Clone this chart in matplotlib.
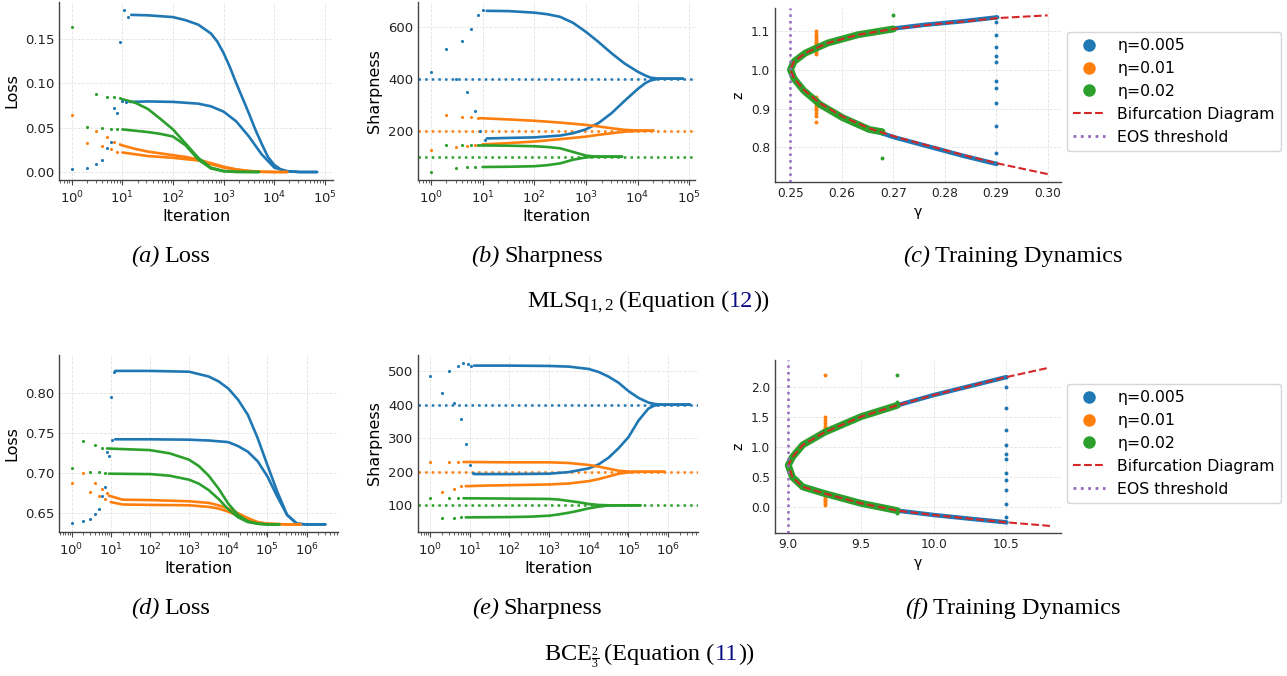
import matplotlib
matplotlib.use('Agg')
import matplotlib.pyplot as plt
from matplotlib.lines import Line2D

plt.rcParams['font.family'] = ['DejaVu Sans']
plt.rcParams['mathtext.fontset'] = 'custom'
plt.rcParams['mathtext.rm'] = 'Liberation Serif'
plt.rcParams['mathtext.it'] = 'Liberation Serif:italic'
plt.rcParams['mathtext.bf'] = 'Liberation Serif:bold'

BLUE, ORANGE, GREEN, RED, PURPLE = '#1f77b4', '#ff7f0e', '#2ca02c', '#d62728', '#9467bd'

# ---------------- (a) MLSq loss ----------------
a_blue_early_it = [1, 2, 3, 4, 5, 6, 7, 8, 9, 10, 11, 12, 13]
a_blue_early_val = [0.003, 0.005, 0.009, 0.014, 0.027, 0.034, 0.072, 0.067, 0.146, 0.080, 0.183, 0.079, 0.175]
a_blue_hi_it = [15, 32, 100, 178, 316, 562, 750, 1000, 1334, 1778, 2371, 3162, 4217, 5623, 7499, 10000, 13335, 17783, 31623, 70000]
a_blue_hi_val = [0.177, 0.1765, 0.1745, 0.171, 0.166, 0.156, 0.147, 0.134, 0.118, 0.100, 0.083, 0.066, 0.048, 0.032, 0.017, 0.008, 0.003, 0.001, 0.0, 0.0]
a_blue_lo_it = [14, 32, 100, 316, 562, 1000, 1778, 3162, 5623, 10000, 17783, 31623, 70000]
a_blue_lo_val = [0.079, 0.0795, 0.079, 0.077, 0.074, 0.068, 0.057, 0.040, 0.020, 0.005, 0.0008, 0.0, 0.0]

a_orange_early_it = [1, 2, 3, 4, 5, 6, 7, 8]
a_orange_early_val = [0.064, 0.033, 0.046, 0.029, 0.039, 0.026, 0.034, 0.023]
a_orange_hi_it = [9, 10, 18, 32, 100, 178, 316, 562, 1000, 1778, 3162, 5623, 10000, 18000]
a_orange_hi_val = [0.031, 0.030, 0.026, 0.023, 0.019, 0.017, 0.014, 0.010, 0.006, 0.003, 0.0012, 0.0003, 0.0, 0.0]
a_orange_lo_it = [10, 32, 100, 316, 562, 1000, 1778, 3162, 5623, 10000, 18000]
a_orange_lo_val = [0.022, 0.018, 0.016, 0.013, 0.009, 0.005, 0.0026, 0.001, 0.0002, 0.0, 0.0]

a_green_early_it = [1, 2, 3, 4, 5, 6, 7, 8, 9]
a_green_early_val = [0.163, 0.051, 0.088, 0.050, 0.085, 0.049, 0.084, 0.048, 0.083]
a_green_hi_it = [10, 18, 32, 56, 100, 178, 316, 562, 1000, 1778, 5000]
a_green_hi_val = [0.082, 0.078, 0.071, 0.060, 0.048, 0.032, 0.016, 0.005, 0.0012, 0.0002, 0.0]
a_green_lo_it = [10, 32, 56, 100, 178, 316, 562, 1000, 1778, 5000]
a_green_lo_val = [0.048, 0.045, 0.043, 0.040, 0.030, 0.014, 0.004, 0.0008, 0.0001, 0.0]

# ---------------- (b) MLSq sharpness ----------------
b_thresholds = [400, 200, 100]
b_blue_early_it = [1, 2, 3, 4, 5, 6, 7, 8, 9, 10, 11]
b_blue_early_val = [427, 513, 399, 546, 350, 592, 276, 644, 197, 664, 164]
b_blue_hi_it = [12, 32, 100, 178, 316, 562, 1000, 1778, 3162, 5623, 10000, 14125, 17783, 25119, 75000]
b_blue_hi_val = [661, 660, 654, 648, 638, 615, 580, 540, 497, 458, 427, 412, 404, 400, 400]
b_blue_lo_it = [12, 32, 100, 316, 562, 1000, 1778, 3162, 5623, 10000, 14125, 17783, 25119, 75000]
b_blue_lo_val = [170, 172, 174, 181, 190, 205, 230, 268, 315, 360, 383, 393, 400, 400]

b_orange_early_it = [1, 2, 3, 4, 5, 6, 7, 8]
b_orange_early_val = [126, 260, 138, 254, 141, 251, 144, 249]
b_orange_hi_it = [9, 32, 100, 316, 1000, 1778, 3162, 5623, 10000, 20000]
b_orange_hi_val = [248, 243, 238, 231, 222, 216, 209, 203, 200.5, 200]
b_orange_lo_it = [10, 32, 100, 316, 1000, 1778, 3162, 5623, 10000, 20000]
b_orange_lo_val = [147, 152, 158, 167, 177, 184, 190, 196, 199, 200]

b_green_early_it = [1, 2, 3, 4, 5, 6, 7, 8]
b_green_early_val = [42, 144, 58, 144, 59, 143, 60, 143]
b_green_hi_it = [9, 32, 100, 178, 316, 562, 1000, 1413, 5000]
b_green_hi_val = [143, 142, 140, 137, 132, 118, 104, 100.5, 100]
b_green_lo_it = [10, 32, 100, 178, 316, 562, 1000, 1413, 5000]
b_green_lo_val = [60, 61, 63, 67, 74, 88, 97, 99.5, 100]

# ---------------- (c) MLSq training dynamics ----------------
c_bif_gamma = [0.300, 0.2901, 0.2836, 0.2763, 0.2704, 0.2653, 0.2602, 0.2558, 0.2526, 0.2507, 0.2500,
               0.2507, 0.2529, 0.2573, 0.2631, 0.2700, 0.2763, 0.2836, 0.2902, 0.300]
c_bif_z = [0.731, 0.759, 0.780, 0.806, 0.827, 0.849, 0.879, 0.913, 0.948, 0.978, 1.000,
           1.021, 1.043, 1.069, 1.090, 1.105, 1.115, 1.124, 1.133, 1.140]
c_eos_gamma = 0.25
c_blue_band_g = [0.2901, 0.2836, 0.2763, 0.2704, 0.2653, 0.2602, 0.2558, 0.2526, 0.2507, 0.2500,
                 0.2507, 0.2529, 0.2573, 0.2631, 0.2700, 0.2763, 0.2836, 0.2902]
c_blue_band_z = [0.757, 0.778, 0.804, 0.825, 0.847, 0.877, 0.912, 0.947, 0.978, 1.000,
                 1.021, 1.043, 1.069, 1.090, 1.106, 1.116, 1.125, 1.135]
c_blue_col_g = 0.29
c_blue_col_z = [1.136, 1.122, 1.090, 1.058, 1.036, 1.021, 0.972, 0.953, 0.914, 0.856, 0.786, 0.759]
c_orange_band_g = [0.2550, 0.2526, 0.2507, 0.2500, 0.2507, 0.2529, 0.2550]
c_orange_band_z = [0.918, 0.947, 0.978, 1.000, 1.021, 1.043, 1.058]
c_orange_col_g = 0.255
c_orange_col_z = [1.100, 1.093, 1.087, 1.082, 1.077, 1.072, 1.068, 1.064, 1.060, 1.055, 1.050, 1.045, 1.040,
                  0.930, 0.925, 0.920, 0.915, 0.910, 0.905, 0.900, 0.895, 0.888, 0.880, 0.865]
c_green_band_g = [0.2678, 0.2653, 0.2602, 0.2558, 0.2526, 0.2507, 0.2500, 0.2507, 0.2529, 0.2573, 0.2631, 0.2700]
c_green_band_z = [0.840, 0.846, 0.876, 0.910, 0.946, 0.977, 1.000, 1.021, 1.043, 1.069, 1.090, 1.105]
c_green_out_g = [0.2700, 0.2678, 0.2678, 0.2678]
c_green_out_z = [1.141, 0.773, 0.836, 0.845]

# ---------------- (d) BCE loss ----------------
d_blue_early_it = [1, 2, 3, 4, 5, 6, 7, 8, 9, 10, 11, 12]
d_blue_early_val = [0.638, 0.640, 0.643, 0.649, 0.655, 0.672, 0.683, 0.726, 0.722, 0.795, 0.742, 0.827]
d_blue_hi_it = [13, 100, 1000, 3162, 5623, 10000, 17783, 31623, 56234, 100000, 177828, 316228, 562341, 1000000, 3000000]
d_blue_hi_val = [0.828, 0.828, 0.827, 0.821, 0.815, 0.806, 0.792, 0.773, 0.744, 0.710, 0.677, 0.648, 0.637, 0.636, 0.636]
d_blue_lo_it = [13, 100, 1000, 3162, 10000, 17783, 31623, 56234, 100000, 177828, 316228, 562341, 1000000, 3000000]
d_blue_lo_val = [0.7425, 0.7425, 0.742, 0.741, 0.739, 0.734, 0.727, 0.715, 0.696, 0.671, 0.648, 0.637, 0.636, 0.636]

d_orange_early_it = [1, 2, 3, 4, 5, 6, 7, 8]
d_orange_early_val = [0.6875, 0.700, 0.677, 0.6875, 0.671, 0.680, 0.668, 0.675]
d_orange_hi_it = [9, 20, 100, 1000, 3162, 5623, 10000, 17783, 31623, 56234, 100000, 316228, 700000]
d_orange_hi_val = [0.672, 0.667, 0.6665, 0.665, 0.663, 0.660, 0.656, 0.650, 0.644, 0.639, 0.637, 0.636, 0.636]
d_orange_lo_it = [10, 20, 100, 1000, 3162, 5623, 10000, 17783, 31623, 56234, 100000, 316228, 700000]
d_orange_lo_val = [0.664, 0.661, 0.6605, 0.660, 0.658, 0.656, 0.652, 0.647, 0.642, 0.638, 0.637, 0.636, 0.636]

d_green_early_it = [1, 2, 3, 4, 5, 6, 7]
d_green_early_val = [0.707, 0.740, 0.702, 0.735, 0.701, 0.732, 0.700]
d_green_hi_it = [8, 100, 316, 1000, 1778, 3162, 5623, 10000, 17783, 31623, 56234, 100000, 200000]
d_green_hi_val = [0.731, 0.729, 0.725, 0.717, 0.709, 0.697, 0.681, 0.662, 0.648, 0.640, 0.637, 0.636, 0.636]
d_green_lo_it = [9, 100, 316, 1000, 1778, 3162, 5623, 10000, 17783, 31623, 56234, 100000, 200000]
d_green_lo_val = [0.6995, 0.699, 0.697, 0.692, 0.687, 0.679, 0.668, 0.655, 0.645, 0.639, 0.637, 0.636, 0.636]

# ---------------- (e) BCE sharpness ----------------
e_thresholds = [400, 200, 100]
e_blue_early_it = [1, 2, 3, 4, 5, 6, 7, 8, 9, 10, 11, 12]
e_blue_early_val = [486, 434, 500, 406, 514, 356, 525, 283, 521, 220, 516, 197]
e_blue_hi_it = [13, 100, 1000, 3162, 10000, 17783, 31623, 56234, 100000, 177828, 316228, 446684, 630957, 3500000]
e_blue_hi_val = [516, 516, 515, 513, 506, 497, 483, 465, 440, 420, 406, 402, 400, 400]
e_blue_lo_it = [13, 100, 1000, 3162, 10000, 17783, 31623, 56234, 100000, 177828, 316228, 446684, 630957, 3500000]
e_blue_lo_val = [193, 193, 194, 199, 210, 222, 242, 270, 303, 352, 388, 397, 400, 400]

e_orange_early_it = [1, 2, 3, 4, 5, 6]
e_orange_early_val = [230, 141, 230, 148, 230, 156]
e_orange_hi_it = [7, 100, 1000, 3162, 10000, 17783, 31623, 56234, 100000, 200000, 800000]
e_orange_hi_val = [229, 228, 228, 226, 220, 215, 209, 203, 200.5, 200, 200]
e_orange_lo_it = [8, 32, 100, 1000, 3162, 10000, 17783, 31623, 56234, 100000, 200000, 800000]
e_orange_lo_val = [157, 159, 160, 162, 165, 172, 178, 186, 194, 198, 200, 200]

e_green_early_it = [1, 2, 3, 4, 5, 6]
e_green_early_val = [121, 62, 121, 63, 121, 64]
e_green_hi_it = [7, 100, 1000, 1778, 3162, 5623, 10000, 17783, 31623, 200000]
e_green_hi_val = [121, 120, 119, 117, 113, 109, 104, 101, 100, 100]
e_green_lo_it = [8, 100, 316, 1000, 1778, 3162, 5623, 10000, 17783, 31623, 200000]
e_green_lo_val = [64, 65, 66, 69, 73, 78, 84, 91, 96, 99.5, 100]

# ---------------- (f) BCE training dynamics ----------------
f_bif_gamma = [10.8, 10.5, 10.25, 10.0, 9.75, 9.5, 9.25, 9.1, 9.03, 9.0,
               9.03, 9.1, 9.25, 9.5, 9.75, 10.0, 10.25, 10.5, 10.8]
f_bif_z = [-0.31, -0.25, -0.19, -0.128, -0.055, 0.067, 0.23, 0.34, 0.50, 0.70,
           0.84, 1.04, 1.25, 1.51, 1.70, 1.87, 2.02, 2.17, 2.33]
f_eos_gamma = 9.0
f_blue_band_g = [10.5, 10.25, 10.0, 9.75, 9.5, 9.25, 9.1, 9.03, 9.0, 9.03, 9.1, 9.25, 9.5, 9.75, 10.0, 10.25, 10.5]
f_blue_band_z = [-0.25, -0.19, -0.128, -0.055, 0.067, 0.23, 0.34, 0.50, 0.70, 0.84, 1.04, 1.25, 1.51, 1.70, 1.87, 2.02, 2.17]
f_blue_col_g = 10.5
f_blue_col_z = [2.17, 2.01, 1.66, 1.29, 1.04, 0.89, 0.80, 0.57, 0.46, 0.29, 0.056, -0.16, -0.24]
f_orange_band_g = [9.25, 9.1, 9.03, 9.0, 9.03, 9.1, 9.25]
f_orange_band_z = [0.23, 0.34, 0.50, 0.70, 0.84, 1.04, 1.25]
f_orange_col_g = 9.25
f_orange_col_z = [2.21, 1.50, 1.45, 1.40, 1.36, 1.33, 1.30, 1.28, 1.26,
                  0.25, 0.22, 0.19, 0.16, 0.13, 0.10, 0.07, 0.04]
f_green_band_g = [9.75, 9.5, 9.25, 9.1, 9.03, 9.0, 9.03, 9.1, 9.25, 9.5, 9.75]
f_green_band_z = [-0.055, 0.067, 0.23, 0.34, 0.50, 0.70, 0.84, 1.04, 1.25, 1.51, 1.70]
f_green_out_g = [9.75, 9.75, 9.75, 9.75, 9.75]
f_green_out_z = [2.21, 1.75, 1.72, -0.08, -0.10]

legend_labels = ['η=0.005', 'η=0.01', 'η=0.02', 'Bifurcation Diagram', 'EOS threshold']

# ====================================================================
W, H = 1287, 676
fig = plt.figure(figsize=(W / 100, H / 100), dpi=100)


def add_ax(l, t, r, b):
    return fig.add_axes([l / W, 1 - b / H, (r - l) / W, (b - t) / H])


def style(ax, fs, logx=False):
    for s in ['top', 'right']:
        ax.spines[s].set_visible(False)
    for s in ['left', 'bottom']:
        ax.spines[s].set_color('#444444')
        ax.spines[s].set_linewidth(1.0)
    ax.grid(True, which='major', ls='--', lw=0.6, color='#e3e3e3')
    ax.set_axisbelow(True)
    ax.tick_params(axis='both', which='both', labelsize=fs, length=0, colors='#444444', labelcolor='#222222')
    if logx:
        ax.set_xscale('log')
        ax.tick_params(axis='x', which='major', length=3.5, width=0.8)
        ax.tick_params(axis='x', which='minor', length=2, width=0.6)


def series(ax, eit, ev, hit, hv, lit, lv, color, lw=1.9):
    ax.plot(hit, hv, color=color, lw=lw, solid_capstyle='round', solid_joinstyle='round')
    ax.plot(lit, lv, color=color, lw=lw, solid_capstyle='round', solid_joinstyle='round')
    ax.scatter(eit, ev, s=5, color=color, lw=0, zorder=3)


TICK_FS = 9.5
LAB_FS = 11.5

# (a)
ax = add_ax(59, 2, 333, 180)
style(ax, TICK_FS, logx=True)
series(ax, a_blue_early_it, a_blue_early_val, a_blue_hi_it, a_blue_hi_val, a_blue_lo_it, a_blue_lo_val, BLUE)
series(ax, a_orange_early_it, a_orange_early_val, a_orange_hi_it, a_orange_hi_val, a_orange_lo_it, a_orange_lo_val, ORANGE)
series(ax, a_green_early_it, a_green_early_val, a_green_hi_it, a_green_hi_val, a_green_lo_it, a_green_lo_val, GREEN)
ax.set_xlim(10 ** -0.25, 10 ** 5.16)
ax.set_ylim(-0.009, 0.1915)
ax.set_yticks([0.0, 0.05, 0.10, 0.15])
ax.set_xticks([1, 10, 100, 1000, 1e4, 1e5])
ax.set_xlabel('Iteration', fontsize=LAB_FS, labelpad=2)
ax.set_ylabel('Loss', fontsize=LAB_FS)

# (b)
ax = add_ax(418, 2, 695, 180)
style(ax, TICK_FS, logx=True)
for thr, col in zip(b_thresholds, [BLUE, ORANGE, GREEN]):
    ax.axhline(thr, color=col, ls=':', lw=1.8)
series(ax, b_blue_early_it, b_blue_early_val, b_blue_hi_it, b_blue_hi_val, b_blue_lo_it, b_blue_lo_val, BLUE)
series(ax, b_orange_early_it, b_orange_early_val, b_orange_hi_it, b_orange_hi_val, b_orange_lo_it, b_orange_lo_val, ORANGE)
series(ax, b_green_early_it, b_green_early_val, b_green_hi_it, b_green_hi_val, b_green_lo_it, b_green_lo_val, GREEN)
ax.set_xlim(10 ** -0.25, 10 ** 5.11)
ax.set_ylim(10, 695)
ax.set_yticks([200, 400, 600])
ax.set_xticks([1, 10, 100, 1000, 1e4, 1e5])
ax.set_xlabel('Iteration', fontsize=LAB_FS, labelpad=2)
ax.set_ylabel('Sharpness', fontsize=LAB_FS)


def dynamics(ax, bif_g, bif_z, eos, blue_bg, blue_bz, blue_cg, blue_cz, or_bg, or_bz, or_cg, or_cz,
             gr_bg, gr_bz, gr_og, gr_oz):
    ax.plot(blue_bg, blue_bz, color=BLUE, lw=3.2, solid_capstyle='round', solid_joinstyle='round', zorder=2)
    ax.scatter([blue_cg] * len(blue_cz), blue_cz, s=8, color=BLUE, lw=0, zorder=2)
    ax.plot(or_bg, or_bz, color=ORANGE, lw=3.5, solid_capstyle='round', solid_joinstyle='round', zorder=2)
    ax.scatter([or_cg] * len(or_cz), or_cz, s=8, color=ORANGE, lw=0, zorder=2)
    ax.plot(gr_bg, gr_bz, color=GREEN, lw=5.0, solid_capstyle='round', solid_joinstyle='round', zorder=2)
    ax.scatter(gr_og, gr_oz, s=8, color=GREEN, lw=0, zorder=2)
    ax.plot(bif_g, bif_z, color=RED, ls='--', lw=1.5, zorder=3)
    ax.axvline(eos, color=PURPLE, ls=':', lw=1.8, zorder=3)


handles = [Line2D([], [], ls='none', marker='o', ms=8, color=BLUE),
           Line2D([], [], ls='none', marker='o', ms=8, color=ORANGE),
           Line2D([], [], ls='none', marker='o', ms=8, color=GREEN),
           Line2D([], [], ls='--', lw=1.5, color=RED),
           Line2D([], [], ls=':', lw=2, color=PURPLE)]

DYN_FS = 8.7
# (c)
ax = add_ax(775, 8, 1061, 182)
style(ax, DYN_FS)
dynamics(ax, c_bif_gamma, c_bif_z, c_eos_gamma, c_blue_band_g, c_blue_band_z, c_blue_col_g, c_blue_col_z,
         c_orange_band_g, c_orange_band_z, c_orange_col_g, c_orange_col_z,
         c_green_band_g, c_green_band_z, c_green_out_g, c_green_out_z)
ax.set_xlim(0.2470, 0.3026)
ax.set_ylim(0.7106, 1.159)
ax.set_xticks([0.25, 0.26, 0.27, 0.28, 0.29, 0.30])
ax.set_yticks([0.8, 0.9, 1.0, 1.1])
ax.set_xlabel('γ', fontsize=10)
ax.set_ylabel('z', fontsize=10)
fig.legend(handles, legend_labels, loc='upper left', bbox_to_anchor=(1067 / W, 1 - 32 / H),
           borderaxespad=0, fontsize=11.3, frameon=True)

# (d)
ax = add_ax(59, 355, 338, 532)
style(ax, TICK_FS, logx=True)
series(ax, d_blue_early_it, d_blue_early_val, d_blue_hi_it, d_blue_hi_val, d_blue_lo_it, d_blue_lo_val, BLUE)
series(ax, d_orange_early_it, d_orange_early_val, d_orange_hi_it, d_orange_hi_val, d_orange_lo_it, d_orange_lo_val, ORANGE)
series(ax, d_green_early_it, d_green_early_val, d_green_hi_it, d_green_hi_val, d_green_lo_it, d_green_lo_val, GREEN)
ax.set_xlim(10 ** -0.32, 10 ** 6.8)
ax.set_ylim(0.6266, 0.8479)
ax.set_yticks([0.65, 0.70, 0.75, 0.80])
ax.set_xticks([1, 10, 100, 1000, 1e4, 1e5, 1e6])
ax.set_xlabel('Iteration', fontsize=LAB_FS, labelpad=2)
ax.set_ylabel('Loss', fontsize=LAB_FS)

# (e)
ax = add_ax(418, 355, 698, 532)
style(ax, TICK_FS, logx=True)
for thr, col in zip(e_thresholds, [BLUE, ORANGE, GREEN]):
    ax.axhline(thr, color=col, ls=':', lw=1.8)
series(ax, e_blue_early_it, e_blue_early_val, e_blue_hi_it, e_blue_hi_val, e_blue_lo_it, e_blue_lo_val, BLUE)
series(ax, e_orange_early_it, e_orange_early_val, e_orange_hi_it, e_orange_hi_val, e_orange_lo_it, e_orange_lo_val, ORANGE)
series(ax, e_green_early_it, e_green_early_val, e_green_hi_it, e_green_hi_val, e_green_lo_it, e_green_lo_val, GREEN)
ax.set_xlim(10 ** -0.30, 10 ** 6.75)
ax.set_ylim(20.5, 547.6)
ax.set_yticks([100, 200, 300, 400, 500])
ax.set_xticks([1, 10, 100, 1000, 1e4, 1e5, 1e6])
ax.set_xlabel('Iteration', fontsize=LAB_FS, labelpad=2)
ax.set_ylabel('Sharpness', fontsize=LAB_FS)

# (f)
ax = add_ax(775, 360, 1061, 533)
style(ax, DYN_FS)
dynamics(ax, f_bif_gamma, f_bif_z, f_eos_gamma, f_blue_band_g, f_blue_band_z, f_blue_col_g, f_blue_col_z,
         f_orange_band_g, f_orange_band_z, f_orange_col_g, f_orange_col_z,
         f_green_band_g, f_green_band_z, f_green_out_g, f_green_out_z)
ax.set_xlim(8.909, 10.876)
ax.set_ylim(-0.428, 2.455)
ax.set_xticks([9.0, 9.5, 10.0, 10.5])
ax.set_yticks([0.0, 0.5, 1.0, 1.5, 2.0])
ax.set_xlabel('γ', fontsize=10)
ax.set_ylabel('z', fontsize=10)
fig.legend(handles, legend_labels, loc='upper left', bbox_to_anchor=(1067 / W, 1 - 384 / H),
           borderaxespad=0, fontsize=11.3, frameon=True)

# ---------------- captions ----------------
CAP_FS = 17.5


def caption(xc, yb, pieces, fs=CAP_FS):
    r = fig.canvas.get_renderer()
    items = []
    total = 0.0
    for s, kw in pieces:
        if s is None:
            items.append((None, kw))
            total += kw
            continue
        t = fig.text(0, 1 - yb / H, s, fontsize=fs, family='Liberation Serif', va='baseline', ha='left', **kw)
        w = t.get_window_extent(r).width
        items.append((t, w))
        total += w
    x = xc - total / 2
    for t, w in items:
        if t is not None:
            t.set_x(x / W)
        x += w


IT = {'style': 'italic'}
NAVY = {'color': '#0b0b86'}
caption(171, 262, [('(a)', IT), (None, 5), ('Loss', {})])
caption(537, 262, [('(b)', IT), (None, 5), ('Sharpness', {})])
caption(1013, 262, [('(c)', IT), (None, 5), ('Training Dynamics', {})])
caption(648, 307, [(r'$\mathrm{MLSq}_{1,2}$', {}), (None, 5), ('(Equation (', {}), ('12', NAVY), ('))', {})])
caption(171, 614, [('(d)', IT), (None, 5), ('Loss', {})])
caption(537, 614, [('(e)', IT), (None, 5), ('Sharpness', {})])
caption(1013, 614, [('(f)', IT), (None, 5), ('Training Dynamics', {})])
caption(649, 660, [(r'$\mathrm{BCE}_{\frac{2}{3}}$', {}), (None, 5), ('(Equation (', {}), ('11', NAVY), ('))', {})])

fig.savefig('out.png', dpi=100)
